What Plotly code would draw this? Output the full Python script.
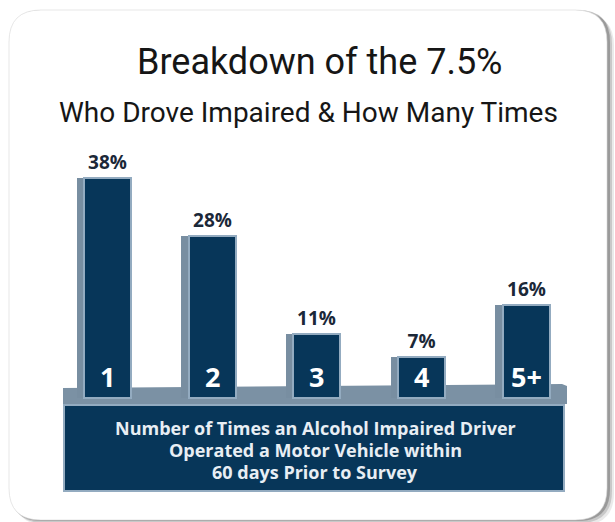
import plotly.graph_objects as go

categories = ["1", "2", "3", "4", "5+"]
percent = [38, 28, 11, 7, 16]

title_line1 = "Breakdown of the 7.5%"
title_line2 = "Who Drove Impaired & How Many Times"
axis_caption = ["Number of Times an Alcohol Impaired Driver",
                "Operated a Motor Vehicle within",
                "60 days Prior to Survey"]

W, H = 615, 522
NAVY = "#073659"
SIDE = "#788ea1"
EDGE = "#93abc0"
PLAT = "#7b91a4"
TITLE_FONT = "Roboto, Liberation Sans Narrow, DejaVu Sans Condensed, sans-serif"


def px(x):
    return x / W


def py(y):
    return 1 - y / H


def rounded_path(x0, y0, x1, y1, r):
    pts = []
    pts.append(f"M {px(x0 + r)} {py(y0)}")
    pts.append(f"L {px(x1 - r)} {py(y0)}")
    pts.append(f"Q {px(x1)} {py(y0)} {px(x1)} {py(y0 + r)}")
    pts.append(f"L {px(x1)} {py(y1 - r)}")
    pts.append(f"Q {px(x1)} {py(y1)} {px(x1 - r)} {py(y1)}")
    pts.append(f"L {px(x0 + r)} {py(y1)}")
    pts.append(f"Q {px(x0)} {py(y1)} {px(x0)} {py(y1 - r)}")
    pts.append(f"L {px(x0)} {py(y0 + r)}")
    pts.append(f"Q {px(x0)} {py(y0)} {px(x0 + r)} {py(y0)}")
    pts.append("Z")
    return " ".join(pts)


shapes = []
# card shadow
for dx, op in [(7, 0.10), (5, 0.18), (3, 0.30)]:
    shapes.append(dict(type="path", xref="paper", yref="paper", layer="below",
                       path=rounded_path(9 + dx - 2, 10 + dx - 3, 607 + dx, 520 + dx - 2, 32),
                       fillcolor=f"rgba(50,50,50,{op})", line=dict(width=0)))
shapes.append(dict(type="path", xref="paper", yref="paper", layer="below",
                   path=rounded_path(9, 10, 607, 520, 32),
                   fillcolor="white", line=dict(color="rgba(215,215,215,0.6)", width=1)))
# platform
shapes.append(dict(type="path", xref="paper", yref="paper", layer="below",
                   path=f"M {px(63)} {py(388)} L {px(562)} {py(384)} L {px(567)} {py(386)} "
                        f"L {px(567)} {py(404)} L {px(63)} {py(406)} Z",
                   fillcolor=PLAT, line=dict(width=0)))
# caption box
shapes.append(dict(type="rect", xref="paper", yref="paper", layer="above",
                   x0=px(64), x1=px(564), y0=py(405), y1=py(491),
                   fillcolor=NAVY, line=dict(color=EDGE, width=2)))

fig = go.Figure()
# side faces
fig.add_trace(go.Bar(x=categories, y=percent, width=0.075, offset=-0.295,
                     marker=dict(color=SIDE, line=dict(width=0)),
                     hoverinfo="skip", showlegend=False))
# front faces
fig.add_trace(go.Bar(x=categories, y=percent, width=0.45, offset=-0.225,
                     marker=dict(color=NAVY, line=dict(color=EDGE, width=2)),
                     text=[f"<b>{v}%</b>" for v in percent], textposition="outside",
                     textfont=dict(family="Open Sans", size=19, color="#1b2838"),
                     cliponaxis=False, showlegend=False))

annotations = []
for i, c in enumerate(categories):
    annotations.append(dict(x=i, y=0, xref="x", yref="y", text=f"<b>{c}</b>",
                            showarrow=False, yanchor="bottom", yshift=1,
                            font=dict(family="Open Sans", size=27, color="white")))
annotations.append(dict(x=px(319), y=py(62), xref="paper", yref="paper", text=title_line1,
                        showarrow=False, yanchor="middle",
                        font=dict(family=TITLE_FONT, size=36, color="#161616")))
annotations.append(dict(x=px(308), y=py(112), xref="paper", yref="paper", text=title_line2,
                        showarrow=False, yanchor="middle",
                        font=dict(family=TITLE_FONT, size=28, color="#161616")))
for i, line in enumerate(axis_caption):
    annotations.append(dict(x=px(315), y=py(428 + 22 * i), xref="paper", yref="paper",
                            text=f"<b>{line}</b>", showarrow=False, yanchor="middle",
                            font=dict(family="Open Sans", size=18, color="#e8eef4")))

fig.update_layout(
    width=W, height=H, autosize=False,
    margin=dict(l=0, r=0, t=0, b=0),
    paper_bgcolor="white", plot_bgcolor="rgba(0,0,0,0)",
    barmode="overlay", bargap=0,
    shapes=shapes, annotations=annotations,
    xaxis=dict(type="category", range=[-1.027, 4.847], visible=False, fixedrange=True),
    yaxis=dict(range=[-21.42, 68.74], visible=False, fixedrange=True),
)
fig.update_traces(selector=dict(type="bar"), textangle=0)

fig.write_html("out.html", config={"displayModeBar": False},
               post_script="document.body.style.margin='0px';")
